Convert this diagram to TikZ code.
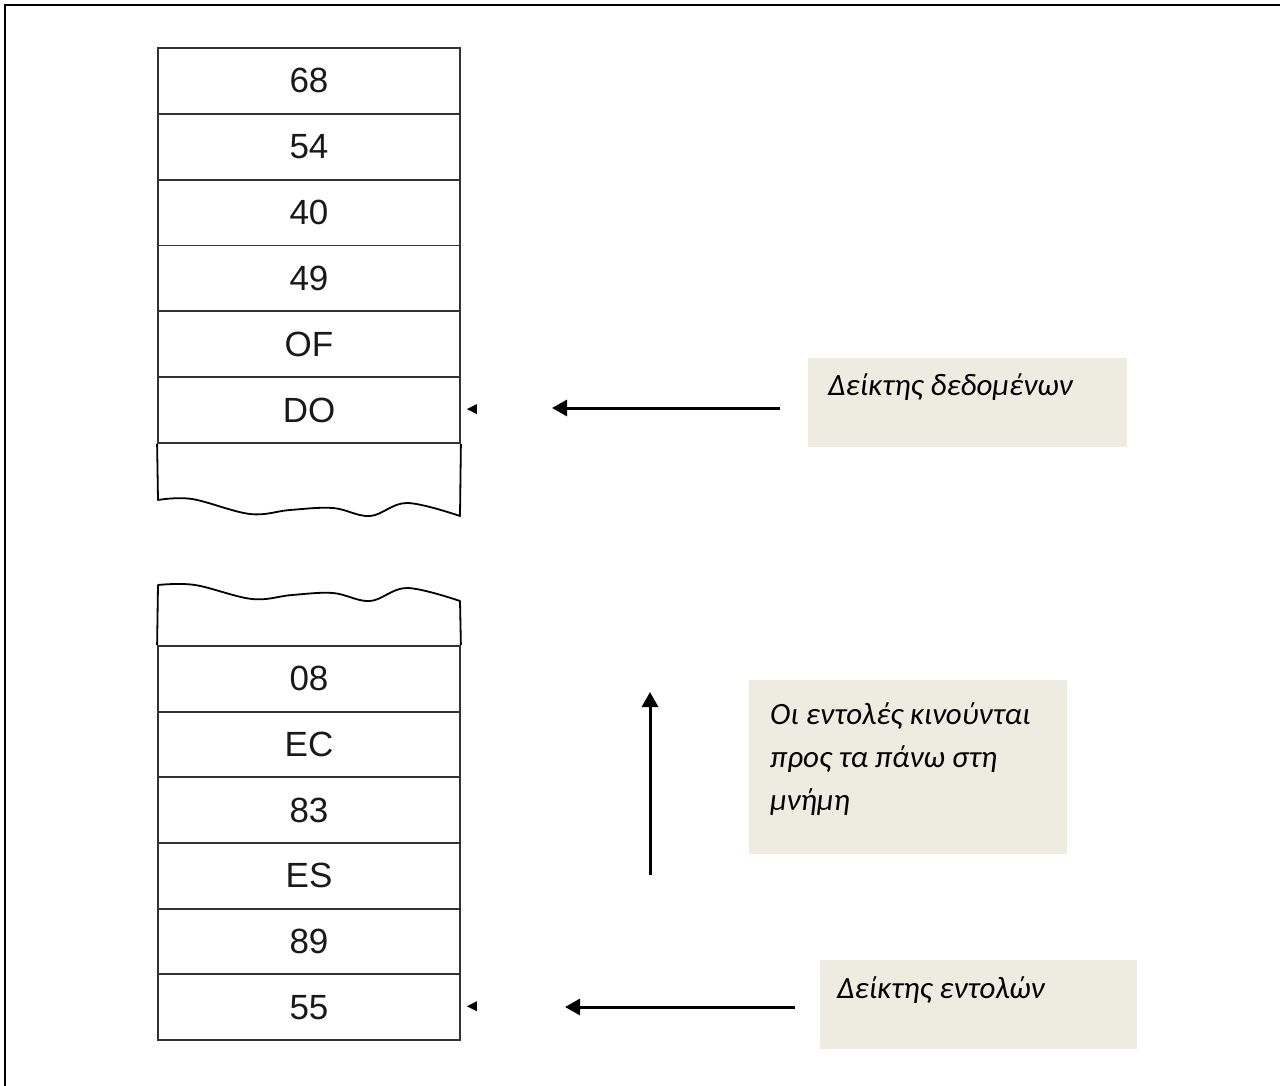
\documentclass[tikz,border=0pt]{standalone}
\usepackage{fontspec}
\setmainfont{Liberation Sans}
\newfontfamily\greekfont{Carlito}
\usetikzlibrary{arrows.meta}
\definecolor{boxfill}{HTML}{EEECE1}
\definecolor{cellline}{HTML}{333333}
\begin{document}
\begin{tikzpicture}[x=1pt,y=-1pt,
  cell/.style={draw=cellline, line width=1.8pt, minimum width=302pt, minimum height=65.8pt, inner sep=0pt, font=\fontsize{35}{35}\selectfont, text=black!90},
  note/.style={fill=boxfill, inner sep=0pt, anchor=north west},
  notetext/.style={font=\greekfont\itshape\fontsize{31}{43}\selectfont, anchor=base west, inner sep=0pt},
  bigarrow/.style={-{Triangle[length=15pt,width=16pt]}, line width=3pt},
  tinyhead/.style={fill=black},
  wave/.style={draw=black, line width=1.8pt, line join=round}
]
\useasboundingbox (0,0) rectangle (1280,1086);
\fill[white] (0,0) rectangle (1280,1086);
\draw[line width=2pt] (5,1095) -- (5,5) -- (1290,5);

% top memory block
\node[cell] (c68) at (309,80.9) {68};
\node[cell] (c54) at (309,146.7) {54};
\node[cell] (c40) at (309,212.6) {40};
\node[cell] (c49) at (309,278.4) {49};
\node[cell] (cOF) at (309,344.2) {OF};
\node[cell] (cDO) at (309,410.1) {DO};
\draw[wave] (cDO.south west) -- plot[smooth,tension=0.6] coordinates {(158,500) (192,499) (250,514) (290,510) (333,508) (370,516) (407,503) (460,516)} -- (cDO.south east);

% bottom memory block
\node[cell] (c08) at (309,678.8) {08};
\node[cell] (cEC) at (309,744.5) {EC};
\node[cell] (c83) at (309,810.2) {83};
\node[cell] (cES) at (309,875.8) {ES};
\node[cell] (c89) at (309,941.5) {89};
\node[cell] (c55) at (309,1007.2) {55};
\draw[wave] (c08.north west) -- plot[smooth,tension=0.6] coordinates {(158,585) (195,585) (252,599) (292,595) (333,593) (370,601) (407,588) (460,601)} -- (c08.north east);

% tiny heads
\fill[tinyhead] ([xshift=6pt,yshift=1pt]cDO.east) -- ++(10,-5) -- ++(0,10) -- cycle;
\fill[tinyhead] ([xshift=6pt,yshift=1pt]c55.east) -- ++(10,-5) -- ++(0,10) -- cycle;

% notes
\node[note, minimum width=319pt, minimum height=89pt] (n1) at (808,358) {};
\node[note, minimum width=318pt, minimum height=174pt] (n2) at (749,680) {};
\node[note, minimum width=317pt, minimum height=89pt] (n3) at (820,960) {};
\node[notetext] (t1) at (828,395) {Δείκτης δεδομένων};
\node[notetext] (t2a) at (770,724) {Οι εντολές κινούνται};
\node[notetext] (t2b) at (770,767) {προς τα πάνω στη};
\node[notetext] (t2c) at (770,810) {μνήμη};
\node[notetext] (t3) at (837,998) {Δείκτης εντολών};

% arrows
\coordinate (a1s) at (780,408);
\coordinate (a1e) at (552,408);
\draw[bigarrow] (a1s) -- (a1e);
\coordinate (a2s) at (650,875);
\coordinate (a2e) at (650,692);
\draw[bigarrow] (a2s) -- (a2e);
\coordinate (a3s) at (795,1007);
\coordinate (a3e) at (565,1007);
\draw[bigarrow] (a3s) -- (a3e);
\end{tikzpicture}
\end{document}
